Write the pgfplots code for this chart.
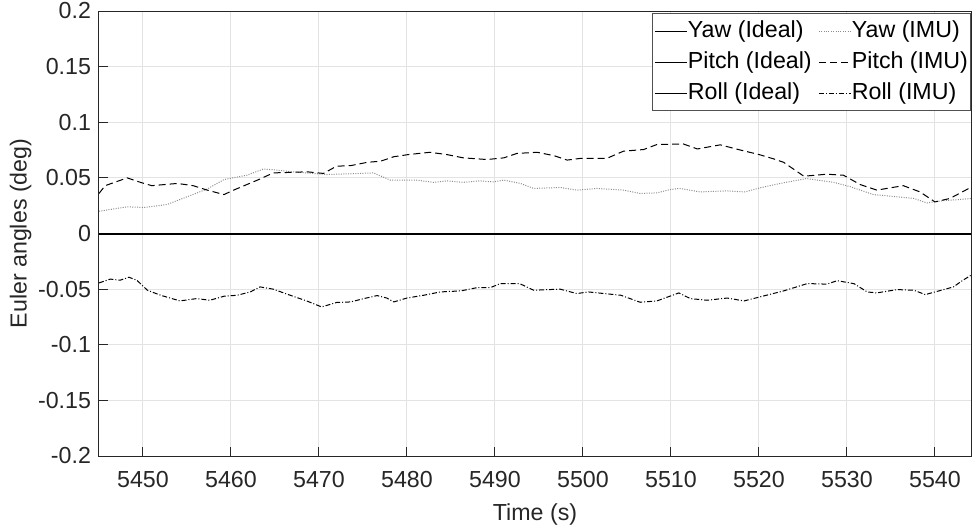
\documentclass[border=0pt]{standalone}
\usepackage{fontspec}
\setmainfont{Liberation Sans}
\usepackage{pgfplots}
\pgfplotsset{compat=1.18}

\definecolor{axiscol}{HTML}{262626}
\definecolor{gridcol}{HTML}{E3E3E3}
\definecolor{yawimu}{HTML}{8C8C8C}

\newcommand{\lblfont}{\fontsize{11.6pt}{13pt}\selectfont}

\begin{document}
\begin{tikzpicture}
\path[use as bounding box] (-49.5pt,-35.5pt) rectangle (436.5pt,228pt);
\begin{axis}[
  at={(0,0)}, anchor=south west,
  scale only axis,
  width=436pt, height=222.5pt,
  xmin=5445, xmax=5544.1,
  ymin=-0.2, ymax=0.2,
  xtick={5450,5460,5470,5480,5490,5500,5510,5520,5530,5540},
  xticklabels={5450,5460,5470,5480,5490,5500,5510,5520,5530,5540},
  ytick={-0.2,-0.15,-0.1,-0.05,0,0.05,0.1,0.15,0.2},
  yticklabels={-0.2,-0.15,-0.1,-0.05,0,0.05,0.1,0.15,0.2},
  tick align=inside,
  xtick pos=bottom, ytick pos=left,
  major tick length=4.4pt,
  tick style={axiscol, line width=0.5pt},
  axis line style={axiscol, line width=0.5pt},
  grid=major,
  major grid style={gridcol, line width=0.5pt},
  ticklabel style={font=\lblfont, text=axiscol},
  xticklabel style={yshift=-4pt},
  yticklabel style={xshift=-0.5pt},
  label style={font=\lblfont, text=axiscol},
  xlabel={Time (s)},
  ylabel={Euler angles (deg)},
  xlabel style={yshift=-1pt},
  ylabel style={yshift=-3.5pt},
  legend columns=2,
  legend cell align=left,
  legend image code/.code={\draw[#1, line width=0.5pt] (0pt,0pt) -- (16pt,0pt);},
  legend style={
    at={(1,0.995)}, anchor=north east,
    font=\lblfont, text=black,
    draw=axiscol!80, line width=0.5pt,
    fill=white,
    inner xsep=1pt, inner ysep=3pt,
    nodes={inner sep=0.3pt, text height=8.6pt, text depth=2.6pt},
    row sep=3.6pt,
    /tikz/every even column/.append style={column sep=3pt},
  },
]

% Yaw (Ideal)
\addplot[black, line width=1pt] coordinates {(5445,0) (5544.1,0)};
\addlegendentry{Yaw (Ideal)}

% Yaw (IMU)
\addplot[yawimu, line width=0.5pt, dash pattern=on 0.5pt off 0.7pt] coordinates {
(5445,0.020) (5448.2,0.024) (5450.1,0.0234) (5452.7,0.026) (5455,0.033)
(5457.3,0.040) (5459.2,0.0485) (5461.8,0.0524) (5463.7,0.058) (5465.2,0.057)
(5467.1,0.0554) (5470.9,0.053) (5474.7,0.054) (5476.2,0.0545) (5478.1,0.048)
(5481.1,0.048) (5483,0.046) (5484.5,0.0473) (5486.4,0.046) (5488.3,0.0473)
(5489.8,0.0464) (5491,0.048) (5492.9,0.045) (5494.4,0.0405) (5497.4,0.0414)
(5499.3,0.039) (5501.6,0.0405) (5504.6,0.039) (5506.5,0.036) (5508.4,0.0365)
(5509.9,0.0395) (5511,0.0405) (5513.3,0.0374) (5516.3,0.0383) (5518.4,0.0374)
(5520.1,0.041) (5522.4,0.045) (5525.4,0.0494) (5528.5,0.046) (5530.4,0.042)
(5533,0.035) (5535.7,0.033) (5537.6,0.0315) (5539.1,0.0275) (5540.6,0.0293)
(5542.9,0.0306) (5544.1,0.0315)
};
\addlegendentry{Yaw (IMU)}

% Pitch (Ideal)
\addplot[black, line width=1pt] coordinates {(5445,0) (5544.1,0)};
\addlegendentry{Pitch (Ideal)}

% Pitch (IMU)
\addplot[black, line width=0.5pt, dash pattern=on 3.5pt off 2pt] coordinates {
(5445,0.036) (5445.7,0.043) (5448.2,0.050) (5449.7,0.046) (5451,0.043)
(5453.9,0.045) (5455.7,0.043) (5457.3,0.039) (5459.2,0.035) (5460.3,0.039)
(5463.3,0.049) (5464.8,0.0545) (5467.1,0.055) (5468.6,0.0555) (5470.5,0.054)
(5472,0.0605) (5473.6,0.061) (5475.5,0.064) (5477,0.065) (5478.5,0.069)
(5480.2,0.071) (5482.6,0.073) (5484.5,0.071) (5486.4,0.068) (5489.1,0.0665)
(5491,0.068) (5492.5,0.072) (5494.8,0.073) (5496.7,0.070) (5498.2,0.066)
(5499.7,0.0675) (5502.7,0.0675) (5504.6,0.074) (5506.9,0.0755) (5508.4,0.080)
(5511.4,0.0805) (5513,0.076) (5515.6,0.0797) (5517.9,0.075) (5520,0.071)
(5521.7,0.067) (5522.8,0.064) (5525.1,0.0515) (5527.7,0.0533) (5529.6,0.0524)
(5531.5,0.044) (5533.4,0.039) (5536.4,0.043) (5538.3,0.0374) (5540,0.0284)
(5541.7,0.0315) (5544.2,0.042)
};
\addlegendentry{Pitch (IMU)}

% Roll (Ideal)
\addplot[black, line width=1pt] coordinates {(5445,0) (5544.1,0)};
\addlegendentry{Roll (Ideal)}

% Roll (IMU)
\addplot[black, line width=0.5pt, dash pattern=on 2.5pt off 1pt on 0.5pt off 1pt] coordinates {
(5445,-0.0444) (5446.3,-0.041) (5447.4,-0.042) (5448.4,-0.0393) (5449.3,-0.042)
(5450.5,-0.051) (5452,-0.0555) (5454.2,-0.0606) (5456.1,-0.0585) (5457.6,-0.060)
(5459.2,-0.0564) (5460.7,-0.0555) (5462.2,-0.0525) (5463.3,-0.048) (5464.8,-0.050)
(5466.4,-0.0546) (5468.6,-0.0606) (5470.3,-0.066) (5472,-0.062) (5473.6,-0.0615)
(5475.1,-0.0585) (5476.6,-0.0558) (5477.7,-0.058) (5478.5,-0.0615) (5480,-0.058)
(5481.9,-0.0555) (5483.8,-0.0525) (5486.1,-0.0516) (5488,-0.0486) (5489.5,-0.0486)
(5490.6,-0.045) (5492.8,-0.045) (5494.4,-0.051) (5497.4,-0.050) (5499.3,-0.054)
(5500.6,-0.0525) (5504.3,-0.0555) (5506.5,-0.0618) (5508.4,-0.0606) (5510.9,-0.0534)
(5512.2,-0.0585) (5514.1,-0.060) (5516.4,-0.058) (5518.3,-0.0606) (5520.1,-0.057)
(5522.8,-0.0516) (5525.5,-0.045) (5527.7,-0.0455) (5528.9,-0.0424) (5530.8,-0.0451)
(5532.3,-0.0525) (5533.4,-0.0534) (5535.7,-0.0504) (5537.6,-0.051) (5538.9,-0.0549)
(5541,-0.0504) (5542.1,-0.048) (5543.1,-0.0424) (5544.1,-0.0375)
};
\addlegendentry{Roll (IMU)}

\end{axis}
\end{tikzpicture}
\end{document}
